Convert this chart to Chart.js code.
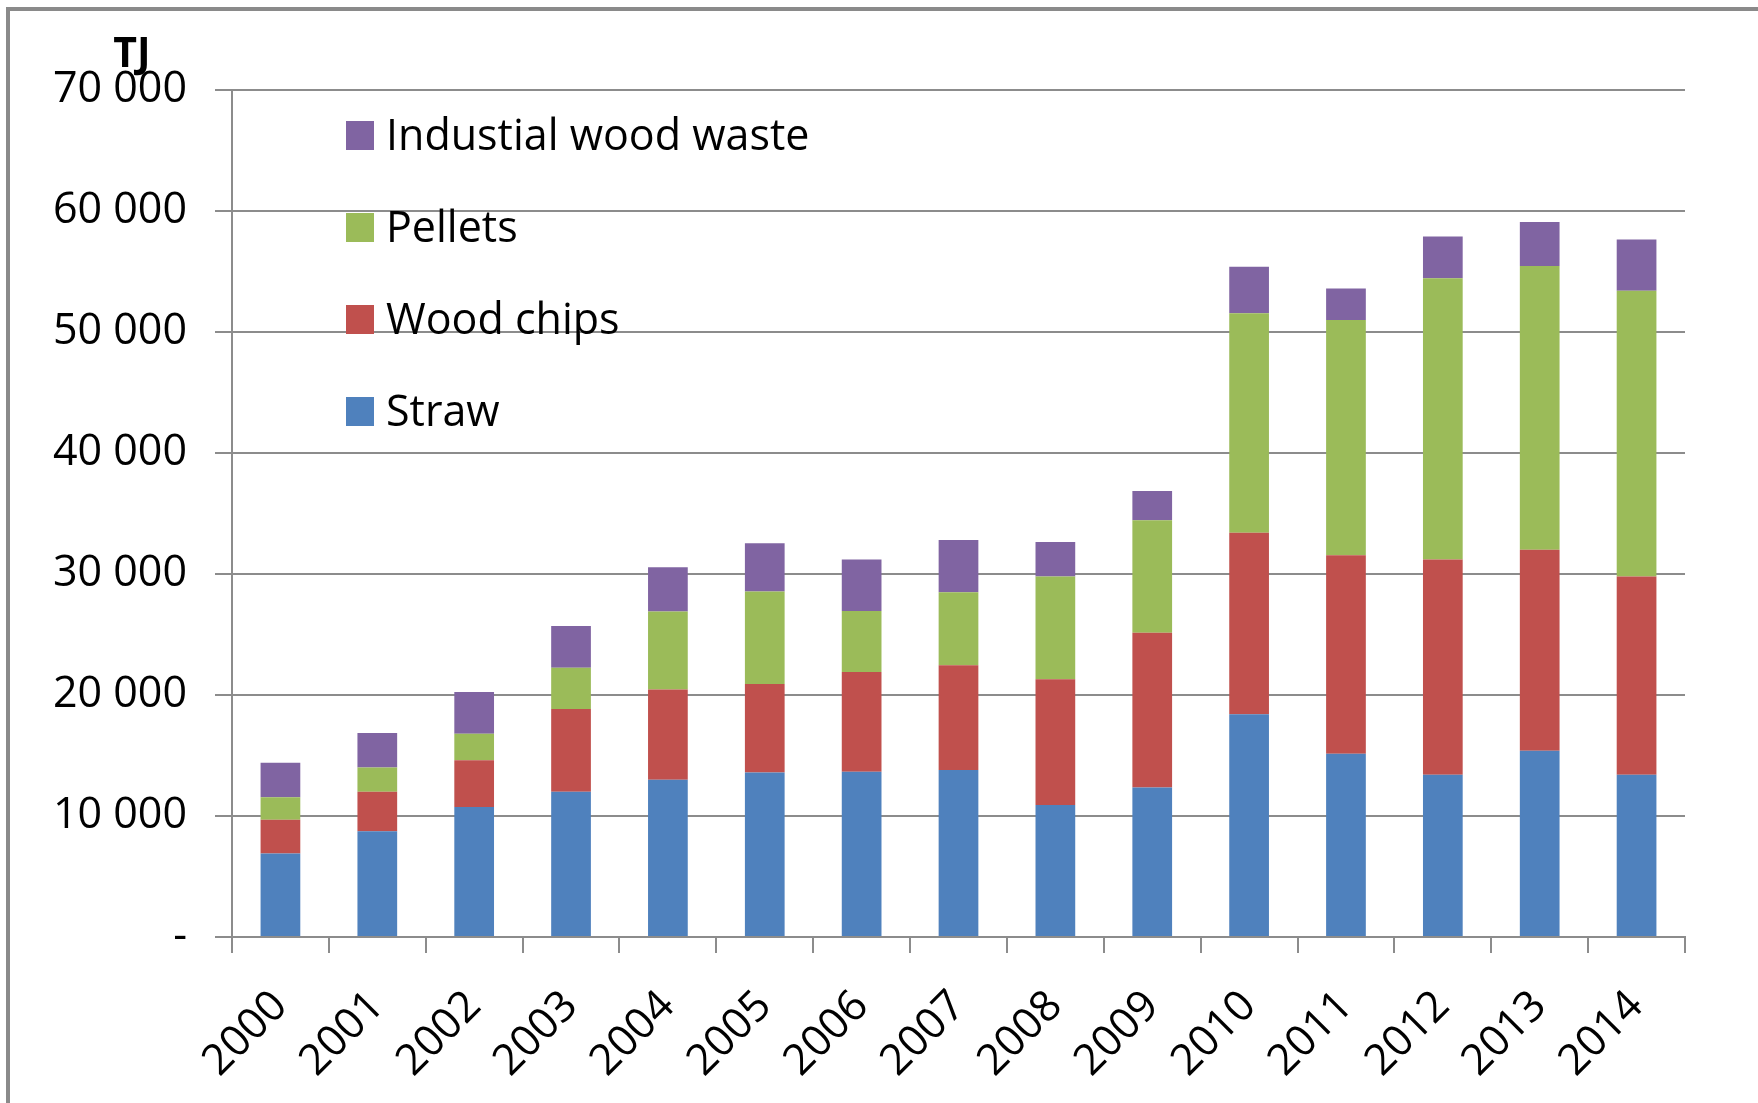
<!DOCTYPE html>
<html>
<head>
<meta charset="utf-8">
<script src="https://cdn.jsdelivr.net/npm/chart.js@4/dist/chart.umd.min.js"></script>
<style>
  html, body { margin: 0; padding: 0; background: #fff; overflow: hidden; }
  #wrap { position: relative; width: 1758px; height: 1103px; overflow: hidden; }
  #frame { position: absolute; left: 6px; top: 7px; width: 1900px; height: 1300px; border: 4px solid #8a8a8a; box-sizing: border-box; }
  canvas { position: absolute; left: 0; top: 0; }
</style>
</head>
<body>
<div id="wrap">
  <div id="frame"></div>
  <canvas id="c" width="1758" height="1103"></canvas>
</div>
<script>
const categories = ['2000','2001','2002','2003','2004','2005','2006','2007','2008','2009','2010','2011','2012','2013','2014'];
const straw = [6900, 8750, 10750, 12000, 13000, 13600, 13650, 13800, 10900, 12350, 18400, 15150, 13400, 15400, 13400];
const woodChips = [2800, 3250, 3850, 6850, 7450, 7300, 8250, 8650, 10400, 12800, 15000, 16400, 17800, 16600, 16400];
const pellets = [1850, 2000, 2200, 3400, 6450, 7650, 5050, 6050, 8500, 9300, 18150, 19450, 23250, 23450, 23600];
const industrialWoodWaste = [2850, 2850, 3450, 3450, 3650, 4000, 4250, 4300, 2850, 2400, 3850, 2600, 3450, 3650, 4250];
const seriesNames = ['Straw', 'Wood chips', 'Pellets', 'Industial wood waste'];
const yTickLabels = ['-', '10 000', '20 000', '30 000', '40 000', '50 000', '60 000', '70 000'];
const unitLabel = 'TJ';

const FONT = "'Open Sans', 'Liberation Sans', sans-serif";
const colors = ['#4F81BD', '#C0504D', '#9BBB59', '#8064A2'];
const GRID = '#8c8c8c';

const legendPlugin = {
  id: 'customLegend',
  afterDraw(chart) {
    const ctx = chart.ctx;
    ctx.save();
    ctx.font = 'bold 41px ' + FONT;
    ctx.fillStyle = '#000';
    ctx.textAlign = 'center';
    ctx.textBaseline = 'alphabetic';
    ctx.fillText(unitLabel, 132, 67);
    const ds = chart.data.datasets;
    ctx.font = '43px ' + FONT;
    ctx.textAlign = 'left';
    const tops = [121, 213, 305, 397];
    for (let k = 0; k < ds.length; k++) {
      const d = ds[ds.length - 1 - k];
      const y = tops[k];
      ctx.fillStyle = d.backgroundColor;
      ctx.fillRect(346, y, 28, 29);
      ctx.fillStyle = '#000';
      ctx.fillText(d.label, 386, y + 29);
    }
    ctx.restore();
  }
};

new Chart(document.getElementById('c'), {
  type: 'bar',
  data: {
    labels: categories,
    datasets: [
      { label: seriesNames[0], data: straw, backgroundColor: colors[0] },
      { label: seriesNames[1], data: woodChips, backgroundColor: colors[1] },
      { label: seriesNames[2], data: pellets, backgroundColor: colors[2] },
      { label: seriesNames[3], data: industrialWoodWaste, backgroundColor: colors[3] }
    ].map(d => Object.assign(d, { barPercentage: 0.41, categoryPercentage: 1, borderWidth: 0 }))
  },
  options: {
    responsive: false,
    animation: false,
    layout: { padding: { top: 90, right: 73, left: 0, bottom: 0 } },
    plugins: { legend: { display: false }, tooltip: { enabled: false } },
    scales: {
      x: {
        stacked: true,
        grid: { offset: true, drawOnChartArea: false, drawTicks: true, tickLength: 16, color: GRID, lineWidth: 2 },
        border: { display: true, color: GRID, width: 2 },
        ticks: { minRotation: 45, maxRotation: 45, color: '#000', font: { family: FONT, size: 43 }, padding: 28 },
        afterFit: s => { s.height = 166; }
      },
      y: {
        stacked: true,
        min: 0,
        max: 70000,
        grid: { color: GRID, lineWidth: 2, tickLength: 17, drawTicks: true },
        border: { display: true, color: GRID, width: 2 },
        ticks: {
          stepSize: 10000,
          color: '#000',
          font: { family: FONT, size: 43 },
          padding: 28,
          callback: (v, i) => yTickLabels[i]
        },
        afterFit: s => { s.width = 232; }
      }
    }
  },
  plugins: [legendPlugin]
});
</script>
</body>
</html>
